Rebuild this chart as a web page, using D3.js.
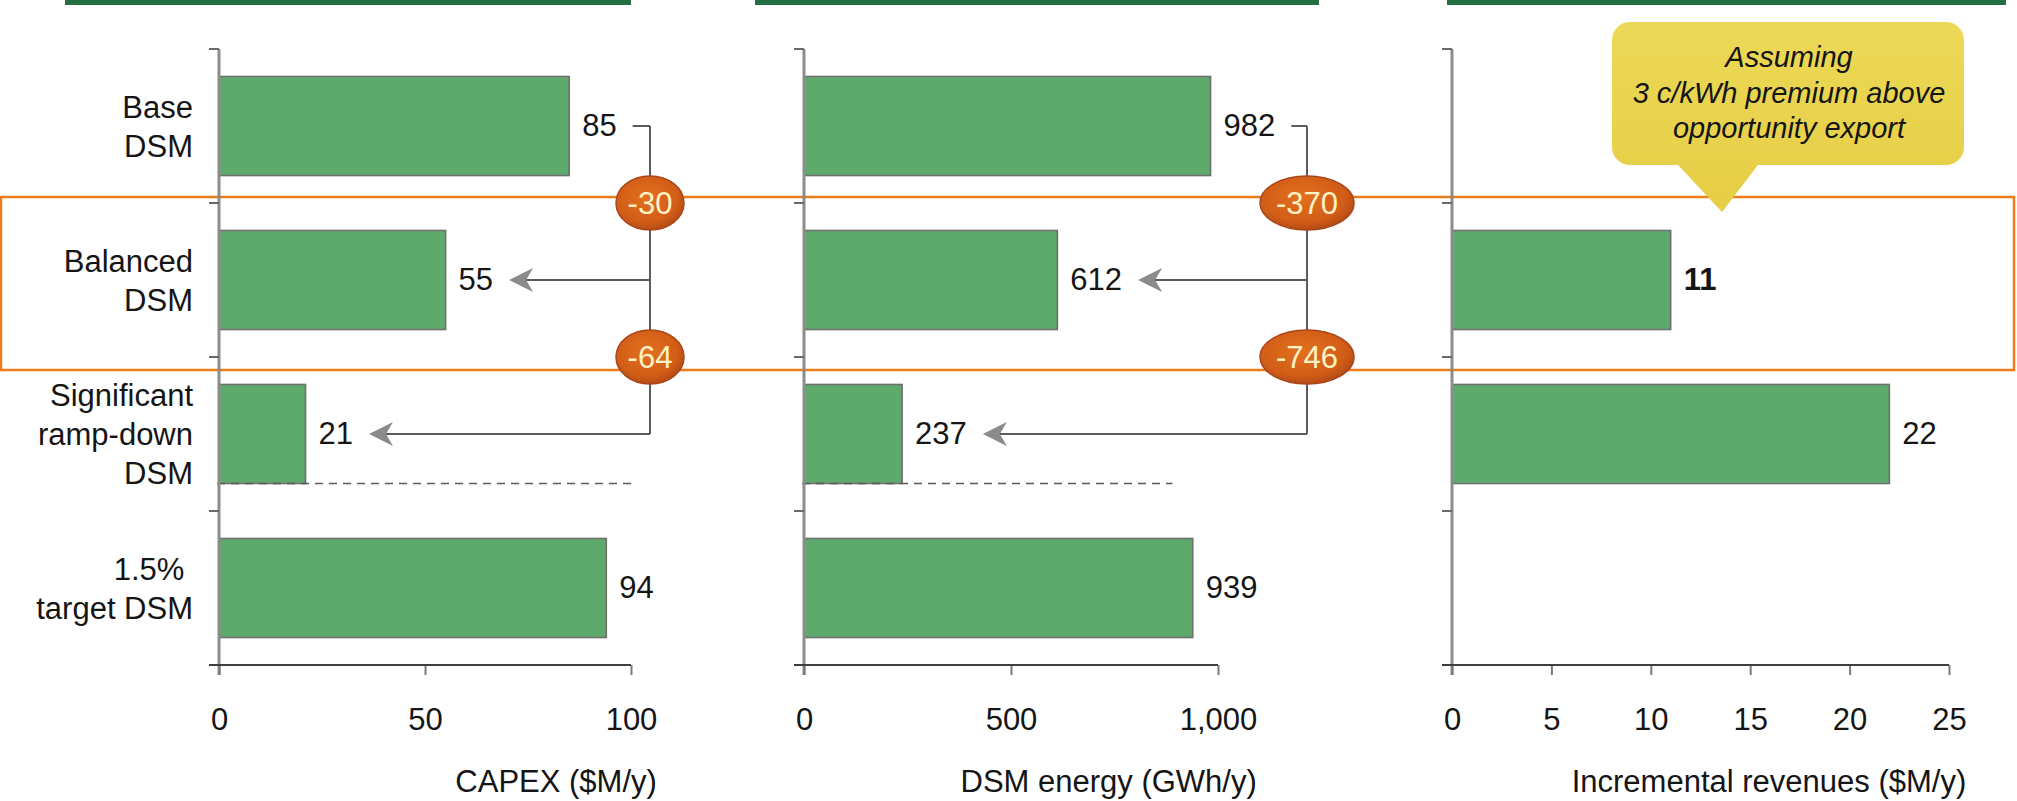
<!DOCTYPE html>
<html>
<head>
<meta charset="utf-8">
<script src="https://cdn.jsdelivr.net/npm/d3@7"></script>
<style>
  html, body { margin: 0; padding: 0; background: #ffffff; }
  svg { display: block; }
  text { font-family: "Liberation Sans", Arial, sans-serif; fill: #151515; }
</style>
</head>
<body>
<svg id="chart" width="2017" height="801"></svg>
<script>
// ---- data ----
const categories = ["Base DSM", "Balanced DSM", "Significant ramp-down DSM", "1.5% target DSM"];
const categoryLines = [["Base", "DSM"], ["Balanced", "DSM"], ["Significant", "ramp-down", "DSM"], ["1.5% ", "target DSM"]];

const capexValues   = [85, 55, 21, 94];
const energyValues  = [982, 612, 237, 939];
const revenueValues = [null, 11, 22, null];

const capexTicks   = [0, 50, 100];
const energyTicks  = [0, 500, 1000];
const revenueTicks = [0, 5, 10, 15, 20, 25];

const capexDeltas  = [-30, -64];
const energyDeltas = [-370, -746];

const capexTitle   = "CAPEX ($M/y)";
const energyTitle  = "DSM energy (GWh/y)";
const revenueTitle = "Incremental revenues ($M/y)";

const calloutLines = ["Assuming", "3 c/kWh premium above", "opportunity export"];

// ---- layout ----
const svg = d3.select("#chart");
const FONT = 31;
const axisY = 665;

const y = d3.scaleBand()
  .domain(categories)
  .range([49, axisY])
  .paddingInner(0.357)
  .paddingOuter(0.1785);

const panels = [
  { values: capexValues,   ticks: capexTicks,   domain: [0, 100],  range: [219, 631],  title: capexTitle,
    deltas: capexDeltas,  connectorX: 650,  dashEnd: 100, header: [65, 631] },
  { values: energyValues,  ticks: energyTicks,  domain: [0, 1000], range: [804, 1218], title: energyTitle,
    deltas: energyDeltas, connectorX: 1307, dashEnd: 890, header: [755, 1319] },
  { values: revenueValues, ticks: revenueTicks, domain: [0, 25],   range: [1452, 1949], title: revenueTitle,
    deltas: null, connectorX: null, dashEnd: null, header: [1447, 2006], boldRow: 1 }
];

const defs = svg.append("defs");
const eg = defs.append("radialGradient").attr("id", "ellipseFill").attr("cx", "45%").attr("cy", "40%").attr("r", "60%");
eg.append("stop").attr("offset", "0%").attr("stop-color", "#e2711f");
eg.append("stop").attr("offset", "75%").attr("stop-color", "#d25d17");
eg.append("stop").attr("offset", "100%").attr("stop-color", "#b64c16");
const cg = defs.append("linearGradient").attr("id", "calloutFill").attr("x1", 0).attr("y1", 0).attr("x2", 0).attr("y2", 1);
cg.append("stop").attr("offset", "0%").attr("stop-color", "#ecd957");
cg.append("stop").attr("offset", "100%").attr("stop-color", "#e6cd45");

// highlight frame around the balanced scenario
svg.append("rect")
  .attr("x", 1).attr("y", 197).attr("width", 2013).attr("height", 173)
  .attr("fill", "none").attr("stroke", "#ee7c1b").attr("stroke-width", 2.5);

// category labels
const catG = svg.append("g");
categories.forEach((c, i) => {
  const lines = categoryLines[i];
  const cy = y(c) + y.bandwidth() / 2;
  const t = catG.append("text")
    .attr("text-anchor", "end")
    .attr("font-size", FONT)
    .style("white-space", "pre");
  lines.forEach((ln, j) => {
    t.append("tspan")
      .attr("x", 193)
      .attr("y", cy + 11 - (lines.length - 1) * 39 / 2 + j * 39)
      .text(ln);
  });
});

const arrowHead = "M0,0 L24,-12 L17,0 L24,12 Z";

panels.forEach(p => {
  const x = d3.scaleLinear().domain(p.domain).range(p.range);
  const g = svg.append("g");
  const x0 = x(0);
  const gap = y.step() * y.paddingInner();

  // header rule
  g.append("rect")
    .attr("x", p.header[0]).attr("y", 0)
    .attr("width", p.header[1] - p.header[0]).attr("height", 5)
    .attr("fill", "#236f42");

  // bars
  const rows = categories.map((c, i) => ({ c, i, v: p.values[i] })).filter(d => d.v != null);
  g.selectAll("rect.bar").data(rows).join("rect")
    .attr("class", "bar")
    .attr("x", x0)
    .attr("y", d => y(d.c))
    .attr("width", d => x(d.v) - x0)
    .attr("height", y.bandwidth())
    .attr("fill", "#5eaa6c")
    .attr("stroke", "#6f6f6f")
    .attr("stroke-width", 1.6);

  // dashed reference line under the ramp-down bar
  if (p.dashEnd != null) {
    const yb = y(categories[2]) + y.bandwidth();
    g.append("line")
      .attr("x1", x0 - 2).attr("x2", x(p.dashEnd))
      .attr("y1", yb).attr("y2", yb)
      .attr("stroke", "#5a5a5a").attr("stroke-width", 1.6)
      .attr("stroke-dasharray", "8,6");
  }

  // y axis line and band-boundary ticks
  g.append("line")
    .attr("x1", x0).attr("x2", x0)
    .attr("y1", y.range()[0]).attr("y2", axisY + 10)
    .attr("stroke", "#8c8c8c").attr("stroke-width", 3);
  d3.range(categories.length + 1).forEach(k => {
    const ty = k < categories.length ? y(categories[k]) - gap / 2 : axisY;
    g.append("line")
      .attr("x1", x0 - 10).attr("x2", x0)
      .attr("y1", ty).attr("y2", ty)
      .attr("stroke", "#6a6a6a").attr("stroke-width", 2);
  });

  // x axis
  const ax = g.append("g").attr("transform", `translate(0,${axisY})`)
    .call(d3.axisBottom(x).tickValues(p.ticks).tickSize(10).tickSizeOuter(0).tickFormat(d3.format(",")));
  ax.select(".domain").remove();
  ax.selectAll(".tick line").attr("stroke", "#7a7a7a").attr("stroke-width", 2);
  ax.selectAll(".tick text")
    .attr("y", 65).attr("dy", null)
    .attr("font-size", FONT)
    .attr("font-family", "Liberation Sans, Arial, sans-serif")
    .attr("fill", "#151515");
  g.append("line")
    .attr("x1", x0 - 10).attr("x2", p.range[1])
    .attr("y1", axisY).attr("y2", axisY)
    .attr("stroke", "#3e3e3e").attr("stroke-width", 2.2);

  // axis title aligned to the right edge of the last tick label
  const lastLabel = ax.selectAll(".tick text").nodes().pop();
  const bb = lastLabel.getBBox();
  const lastTickX = x(p.ticks[p.ticks.length - 1]);
  g.append("text")
    .attr("x", lastTickX + bb.x + bb.width)
    .attr("y", 792)
    .attr("text-anchor", "end")
    .attr("font-size", FONT)
    .text(p.title);

  // value labels
  const labelEnds = [];
  rows.forEach(d => {
    const t = g.append("text")
      .attr("x", x(d.v) + 13)
      .attr("y", y(d.c) + y.bandwidth() / 2 + 10)
      .attr("font-size", FONT)
      .attr("font-weight", p.boldRow === d.i ? "bold" : "normal")
      .text(d3.format(",")(d.v));
    const b = t.node().getBBox();
    labelEnds[d.i] = b.x + b.width;
  });

  // change connectors: base -> balanced -> ramp-down
  if (p.deltas) {
    const cx = p.connectorX;
    const cy = i => y(categories[i]) + y.bandwidth() / 2;
    const lc = "#5c5c5c";
    g.append("line")
      .attr("x1", labelEnds[0] + 16).attr("x2", cx)
      .attr("y1", cy(0)).attr("y2", cy(0))
      .attr("stroke", lc).attr("stroke-width", 2);
    g.append("line")
      .attr("x1", cx).attr("x2", cx)
      .attr("y1", cy(0)).attr("y2", cy(2))
      .attr("stroke", lc).attr("stroke-width", 2);
    [1, 2].forEach(i => {
      const tip = labelEnds[i] + 16;
      g.append("line")
        .attr("x1", cx).attr("x2", tip + 14)
        .attr("y1", cy(i)).attr("y2", cy(i))
        .attr("stroke", lc).attr("stroke-width", 2);
      g.append("path")
        .attr("d", arrowHead)
        .attr("transform", `translate(${tip},${cy(i)})`)
        .attr("fill", "#8b8b8b");
    });
    p.deltas.forEach((dv, k) => {
      const by = y(categories[k + 1]) - gap / 2;
      const label = String(dv);
      const rx = label.length > 3 ? 47 : 34;
      g.append("ellipse")
        .attr("cx", cx).attr("cy", by)
        .attr("rx", rx).attr("ry", 27)
        .attr("fill", "url(#ellipseFill)")
        .attr("stroke", "#a9461a").attr("stroke-width", 1.5);
      g.append("text")
        .attr("x", cx).attr("y", by + 11)
        .attr("text-anchor", "middle")
        .attr("font-size", 31)
        .style("fill", "#fff2c4")
        .text(label);
    });
  }
});

// callout bubble
const cb = { x0: 1612, x1: 1964, y0: 22, y1: 165, r: 18, px0: 1678, px1: 1758, tipX: 1722, tipY: 212 };
const cPath = d3.path();
cPath.moveTo(cb.x0 + cb.r, cb.y0);
cPath.lineTo(cb.x1 - cb.r, cb.y0);
cPath.arcTo(cb.x1, cb.y0, cb.x1, cb.y0 + cb.r, cb.r);
cPath.lineTo(cb.x1, cb.y1 - cb.r);
cPath.arcTo(cb.x1, cb.y1, cb.x1 - cb.r, cb.y1, cb.r);
cPath.lineTo(cb.px1, cb.y1);
cPath.lineTo(cb.tipX, cb.tipY);
cPath.lineTo(cb.px0, cb.y1);
cPath.lineTo(cb.x0 + cb.r, cb.y1);
cPath.arcTo(cb.x0, cb.y1, cb.x0, cb.y1 - cb.r, cb.r);
cPath.lineTo(cb.x0, cb.y0 + cb.r);
cPath.arcTo(cb.x0, cb.y0, cb.x0 + cb.r, cb.y0, cb.r);
cPath.closePath();
svg.append("path").attr("d", cPath.toString()).attr("fill", "url(#calloutFill)");
const ct = svg.append("text")
  .attr("text-anchor", "middle")
  .attr("font-size", 29)
  .attr("font-style", "italic");
calloutLines.forEach((ln, j) => {
  ct.append("tspan").attr("x", 1789).attr("y", 67 + j * 35.5).text(ln);
});
</script>
</body>
</html>
